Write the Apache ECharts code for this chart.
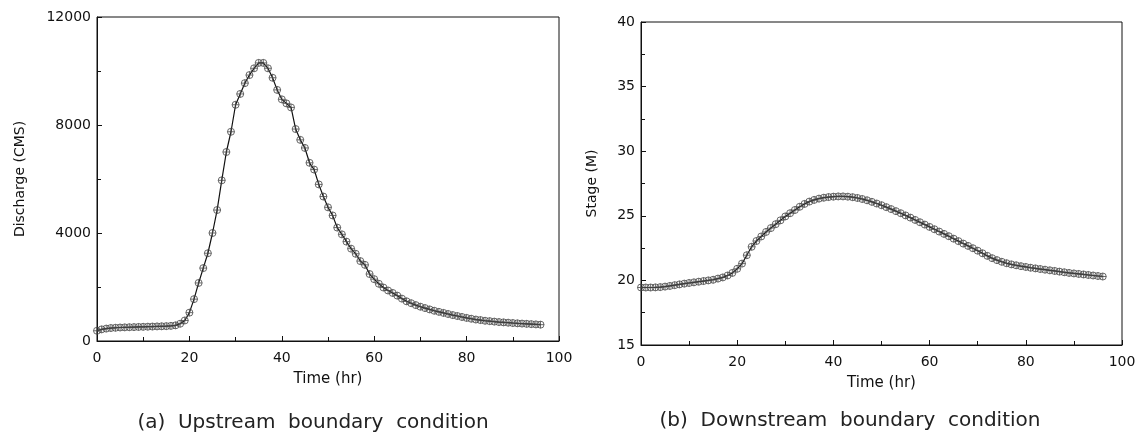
<!DOCTYPE html>
<html>
<head>
<meta charset="utf-8">
<script src="https://cdn.jsdelivr.net/npm/echarts@6/dist/echarts.min.js"></script>
<style>html,body{margin:0;padding:0;background:#fff}#c{width:1141px;height:448px}</style>
</head>
<body>
<div id="c"></div>
<script>
// Time (hr), hourly samples
const hours = [];
for (let h = 0; h <= 96; h++) hours.push(h);

// (a) Upstream boundary condition: discharge (CMS)
const discharge = [
  380, 430, 460, 480, 490, 500, 505, 510, 515, 520,
  525, 530, 535, 540, 545, 550, 560, 580, 640, 760,
  1050, 1550, 2150, 2700, 3250, 4000, 4850, 5950, 7000, 7750,
  8750, 9150, 9550, 9850, 10100, 10300, 10300, 10100, 9750, 9300,
  8950, 8800, 8650, 7850, 7450, 7150, 6600, 6350, 5800, 5350,
  4950, 4650, 4200, 3950, 3680, 3420, 3230, 2960, 2820, 2480,
  2290, 2120, 1980, 1870, 1780, 1680, 1570, 1470, 1400, 1330,
  1270, 1220, 1170, 1120, 1080, 1040, 1000, 960, 925, 890,
  855, 825, 795, 775, 750, 735, 718, 702, 690, 678,
  666, 655, 645, 635, 625, 615, 605
];

// (b) Downstream boundary condition: stage (M)
const stage = [
  19.45, 19.45, 19.45, 19.46, 19.48, 19.52, 19.57, 19.63, 19.69, 19.75,
  19.80, 19.85, 19.90, 19.95, 20.00, 20.05, 20.14, 20.23, 20.38, 20.58,
  20.90, 21.30, 21.95, 22.60, 23.05, 23.40, 23.75, 24.05, 24.35, 24.65,
  24.95, 25.20, 25.45, 25.70, 25.92, 26.10, 26.23, 26.33, 26.40, 26.45,
  26.48, 26.50, 26.50, 26.48, 26.44, 26.38, 26.30, 26.20, 26.08, 25.95,
  25.82, 25.67, 25.52, 25.36, 25.20, 25.03, 24.86, 24.68, 24.50, 24.32,
  24.14, 23.96, 23.78, 23.60, 23.42, 23.23, 23.04, 22.85, 22.67, 22.49,
  22.30, 22.10, 21.90, 21.72, 21.57, 21.44, 21.33, 21.24, 21.17, 21.10,
  21.04, 20.98, 20.93, 20.88, 20.83, 20.78, 20.73, 20.68, 20.63, 20.58,
  20.54, 20.50, 20.46, 20.42, 20.38, 20.34, 20.30
];

const xTitle = 'Time (hr)';
const yTitleA = 'Discharge (CMS)';
const yTitleB = 'Stage (M)';
const captionA = '(a)  Upstream  boundary  condition';
const captionB = '(b)  Downstream  boundary  condition';

const FONT = 'DejaVu Sans';
const sym = 'path://M10,0 A10,10 0 1,1 10,20 A10,10 0 1,1 10,0 Z M0,10 L20,10 M10,0 L10,20';

function xAxisCfg(gi) {
  return {
    type: 'value', gridIndex: gi, min: 0, max: 100, interval: 20,
    name: xTitle, nameLocation: 'middle', nameGap: 31,
    nameTextStyle: {fontFamily: FONT, fontSize: 15, color: '#111'},
    axisLine: {show: true, onZero: false, lineStyle: {color: '#111', width: 1}},
    axisTick: {show: true, inside: true, length: 5, lineStyle: {color: '#111'}},
    minorTick: {show: true, splitNumber: 2, length: 4, lineStyle: {color: '#111'}},
    axisLabel: {fontFamily: FONT, fontSize: 14, color: '#111', margin: 10},
    splitLine: {show: false}
  };
}
function yAxisCfg(gi, min, max, interval, name, gap) {
  return {
    type: 'value', gridIndex: gi, min: min, max: max, interval: interval,
    name: name, nameLocation: 'middle', nameGap: gap,
    nameTextStyle: {fontFamily: FONT, fontSize: 14, color: '#111'},
    axisLine: {show: true, onZero: false, lineStyle: {color: '#111', width: 1}},
    axisTick: {show: true, inside: true, length: 5, lineStyle: {color: '#111'}},
    minorTick: {show: true, splitNumber: 2, length: 4, lineStyle: {color: '#111'}},
    axisLabel: {fontFamily: FONT, fontSize: 14, color: '#111', margin: 6,
      formatter: (v) => String(v)},
    splitLine: {show: false}
  };
}
function seriesCfg(gi, data) {
  return {
    type: 'line', xAxisIndex: gi, yAxisIndex: gi,
    data: hours.map((h, i) => [h, data[i]]),
    symbol: sym, symbolSize: 7, showSymbol: true,
    lineStyle: {color: '#111', width: 1.2},
    itemStyle: {color: 'rgba(0,0,0,0)', borderColor: '#444', borderWidth: 0.8},
    animation: false, silent: true
  };
}

const chart = echarts.init(document.getElementById('c'), null, {renderer: 'canvas'});
chart.setOption({
  backgroundColor: '#fff',
  animation: false,
  grid: [
    {left: 97, top: 17, width: 462, height: 324, show: true, borderColor: '#111', borderWidth: 1, backgroundColor: 'transparent'},
    {left: 641, top: 22, width: 481, height: 323, show: true, borderColor: '#111', borderWidth: 1, backgroundColor: 'transparent'}
  ],
  xAxis: [xAxisCfg(0), xAxisCfg(1)],
  yAxis: [
    yAxisCfg(0, 0, 12000, 4000, yTitleA, 70),
    yAxisCfg(1, 15, 40, 5, yTitleB, 42)
  ],
  series: [seriesCfg(0, discharge), seriesCfg(1, stage)],
  graphic: [
    {type: 'text', x: 313, y: 423, silent: true,
     style: {text: captionA, fontFamily: FONT, fontSize: 20, fill: '#222', align: 'center', verticalAlign: 'middle'}},
    {type: 'text', x: 850, y: 421, silent: true,
     style: {text: captionB, fontFamily: FONT, fontSize: 20, fill: '#222', align: 'center', verticalAlign: 'middle'}}
  ]
});
</script>
</body>
</html>
